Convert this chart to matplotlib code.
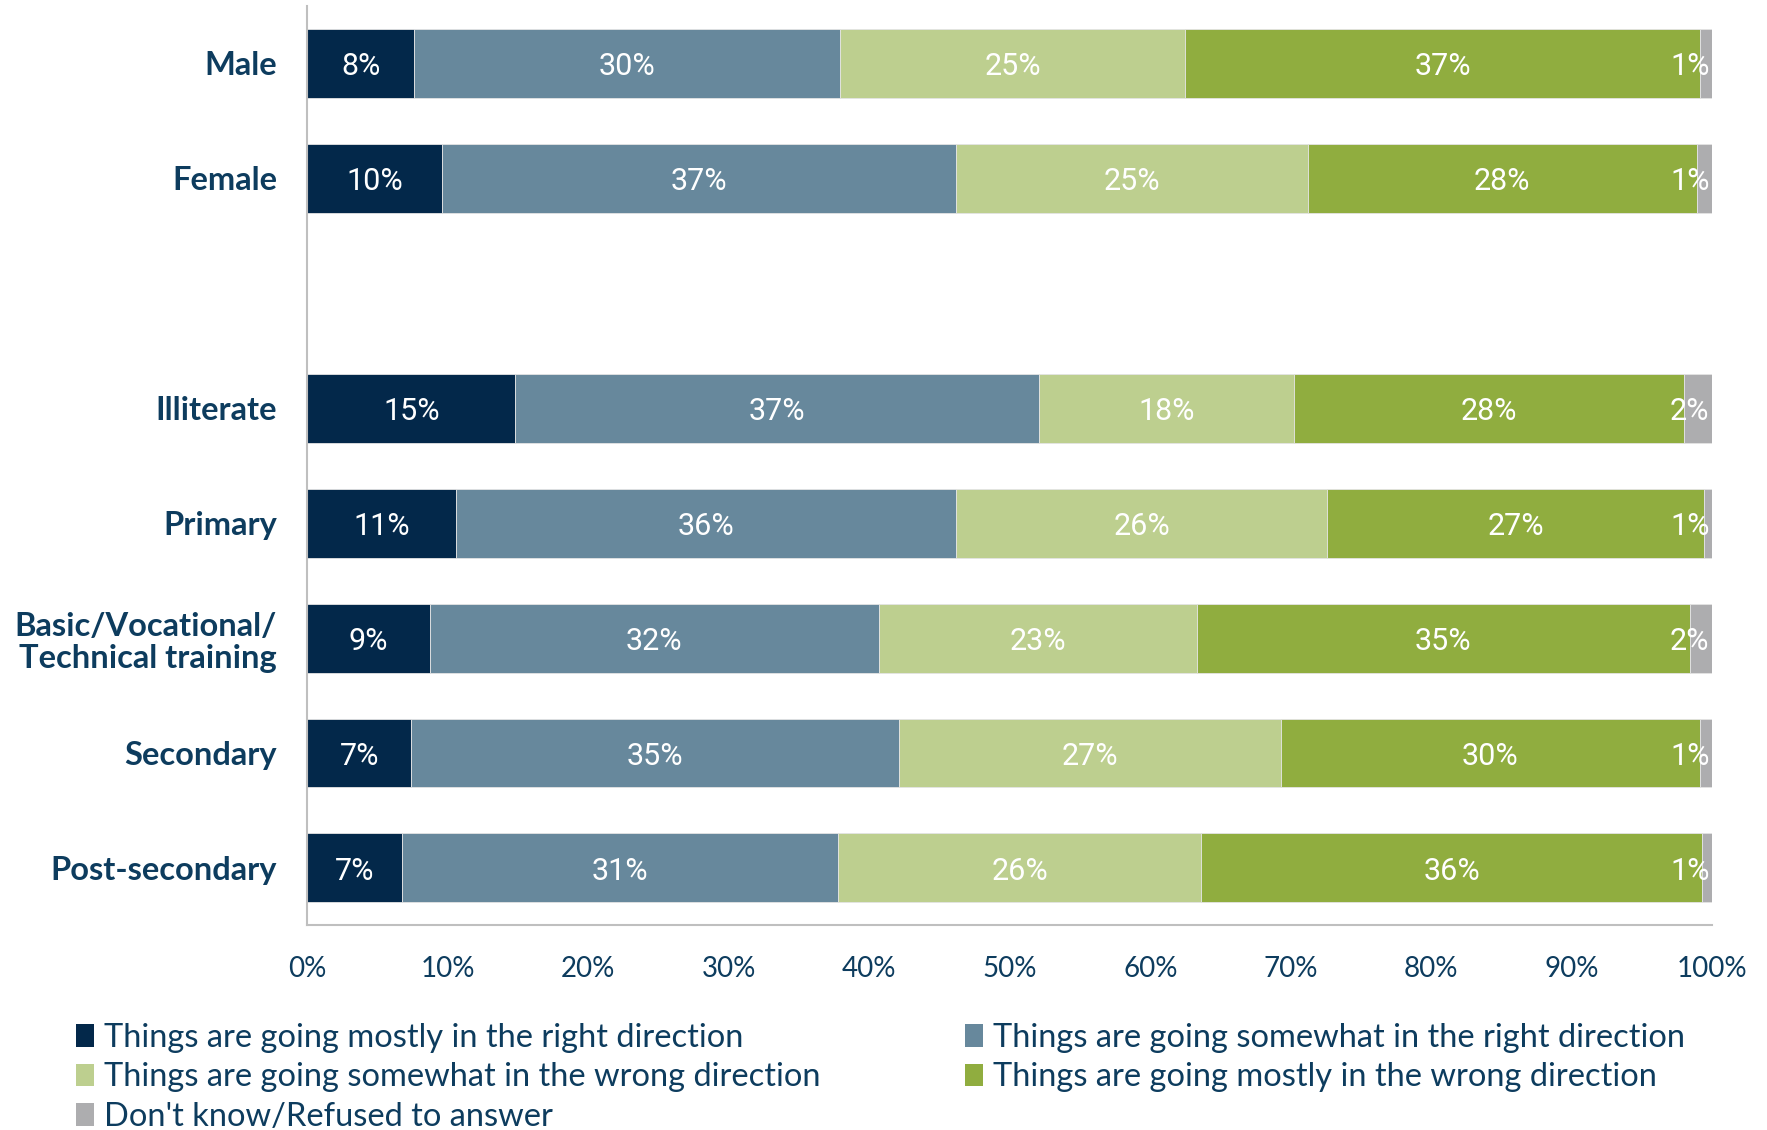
import matplotlib
matplotlib.use("Agg")
import matplotlib.pyplot as plt
from matplotlib import font_manager
from matplotlib.patches import Patch

# -----------------------------
# data (shares in %)
# -----------------------------
categories = ["Male", "Female", "Illiterate", "Primary",
              "Basic/Vocational/\nTechnical training", "Secondary", "Post-secondary"]
series_names = [
    "Things are going mostly in the right direction",
    "Things are going somewhat in the right direction",
    "Things are going somewhat in the wrong direction",
    "Things are going mostly in the wrong direction",
    "Don't know/Refused to answer",
]
mostly_right = [7.6, 9.6, 14.8, 10.6, 8.7, 7.4, 6.7]
somewhat_right = [30.3, 36.6, 37.3, 35.6, 32.0, 34.7, 31.1]
somewhat_wrong = [24.6, 25.0, 18.1, 26.4, 22.6, 27.2, 25.8]
mostly_wrong = [36.6, 27.7, 27.8, 26.8, 35.1, 29.8, 35.7]
dont_know = [0.9, 1.1, 2.0, 0.6, 1.6, 0.9, 0.7]
tick_values = [0, 10, 20, 30, 40, 50, 60, 70, 80, 90, 100]

colors = ["#03284a", "#67889c", "#bdcf8f", "#90ad3f", "#adadaf"]
navy = "#0d3c5e"

installed = set(font_manager.get_font_names())
def pick(*names):
    for n in names:
        if n in installed:
            return n
    return "DejaVu Sans"

narrow = pick("Liberation Sans Narrow", "Roboto", "Lato")
humanist = pick("Lato", "Open Sans")

# gap row between gender and education groups
ypos = [0, 1, 3, 4, 5, 6, 7]
series = [mostly_right, somewhat_right, somewhat_wrong, mostly_wrong, dont_know]

fig = plt.figure(figsize=(17.67, 11.30), dpi=100)
ax = fig.add_axes([0.174, 0.181, 0.795, 0.814])

left = [0.0] * len(categories)
for k, (vals, col) in enumerate(zip(series, colors)):
    ax.barh(ypos, vals, left=left, height=0.6, color=col,
            edgecolor="#e4e4e4", linewidth=0.6)
    for y, l, v in zip(ypos, left, vals):
        x = l + v / 2
        if k == len(series) - 1:
            x = min(x, 98.4)
        ax.text(x, y + 0.03, f"{v:.0f}%", ha="center", va="center", color="white",
                fontsize=22, family=narrow)
    left = [a + b for a, b in zip(left, vals)]

ax.set_xlim(0, 100)
ax.set_ylim(7.5, -0.5)
ax.set_yticks(ypos)
ax.set_yticklabels(categories, fontsize=23.5, fontweight="bold", color=navy,
                   family=humanist, linespacing=1.15)
ax.set_xticks(tick_values)
ax.set_xticklabels([f"{t}%" for t in tick_values], fontsize=20, color=navy,
                   family=humanist)
ax.tick_params(axis="both", length=0)
ax.tick_params(axis="x", pad=22)
ax.tick_params(axis="y", pad=22)
for s in ["top", "right"]:
    ax.spines[s].set_visible(False)
for s in ["left", "bottom"]:
    ax.spines[s].set_color("#bfbfbf")
    ax.spines[s].set_linewidth(1.5)

handles = [Patch(facecolor=c, edgecolor="none") for c in colors]
leg_kw = dict(frameon=False, handlelength=0.55, handleheight=0.7,
              handletextpad=0.3, labelspacing=0.3, borderpad=0, borderaxespad=0,
              labelcolor=navy, prop={"family": humanist, "size": 23.5})
fig.legend([handles[0], handles[2], handles[4]],
           [series_names[0], series_names[2], series_names[4]],
           loc="upper left", bbox_to_anchor=(0.043, 0.095), **leg_kw)
fig.legend([handles[1], handles[3]], [series_names[1], series_names[3]],
           loc="upper left", bbox_to_anchor=(0.546, 0.095), **leg_kw)

fig.savefig("out.png", dpi=100)
